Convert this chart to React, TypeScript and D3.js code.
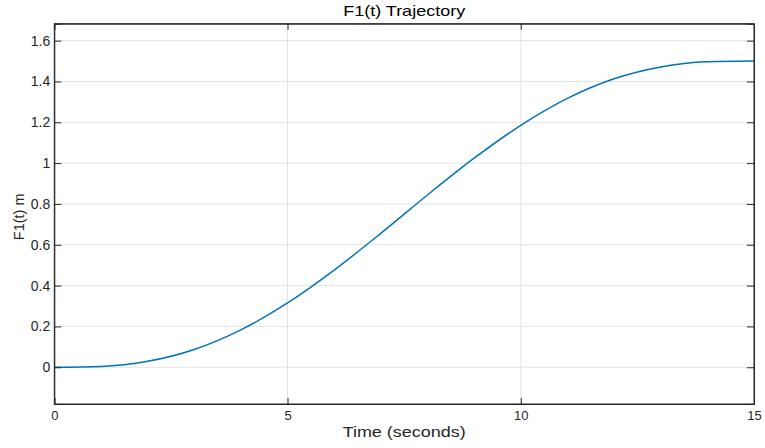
import React, { useEffect, useRef } from "react";
import * as d3 from "d3";

const WIDTH = 765;
const HEIGHT = 448;
const LINE_COLOR = "#0072BD";
const FONT = "'Liberation Sans', Arial, Helvetica, sans-serif";

// values
const timeSeconds = [0, 1, 2, 3, 4, 5, 6, 7, 8, 9, 10, 11, 12, 13, 14, 15];
const f1Values = [0, 0.004, 0.029, 0.087, 0.183, 0.315, 0.476, 0.656, 0.844, 1.024, 1.185, 1.317, 1.413, 1.471, 1.496, 1.5];

const xTicks = [0, 5, 10, 15];
const yTicks = [0, 0.2, 0.4, 0.6, 0.8, 1, 1.2, 1.4, 1.6];
const xDomain = [0, 15];
const yDomain = [-0.18, 1.683];

const margin = { top: 23.7, right: 11, bottom: 44, left: 54.3 };

const App = () => {
  const ref = useRef<SVGSVGElement | null>(null);

  useEffect(() => {
    const root = d3.select(ref.current);
    root.selectAll("*").remove();

    const w = WIDTH - margin.left - margin.right;
    const h = HEIGHT - margin.top - margin.bottom;

    const x = d3.scaleLinear().domain(xDomain).range([0, w]);
    const y = d3.scaleLinear().domain(yDomain).range([h, 0]);

    const svg = root.append("g").attr("transform", `translate(${margin.left},${margin.top})`);

    // grid
    svg.append("g")
      .selectAll("line")
      .data(xTicks.filter((d) => d > xDomain[0] && d < xDomain[1]))
      .join("line")
      .attr("x1", (d) => x(d)).attr("x2", (d) => x(d))
      .attr("y1", 0).attr("y2", h)
      .attr("stroke", "#e3e3e3").attr("stroke-width", 1);
    svg.append("g")
      .selectAll("line")
      .data(yTicks)
      .join("line")
      .attr("x1", 0).attr("x2", w)
      .attr("y1", (d) => y(d)).attr("y2", (d) => y(d))
      .attr("stroke", "#e3e3e3").attr("stroke-width", 1);

    // curve
    const line = d3.line<number>()
      .x((_, i) => x(timeSeconds[i]))
      .y((d) => y(d))
      .curve(d3.curveMonotoneX);
    svg.append("path")
      .datum(f1Values)
      .attr("d", line)
      .attr("fill", "none")
      .attr("stroke", LINE_COLOR)
      .attr("stroke-width", 1.5);

    // box
    svg.append("rect")
      .attr("x", 0).attr("y", 0).attr("width", w).attr("height", h)
      .attr("fill", "none").attr("stroke", "#262626").attr("stroke-width", 1);

    // axes with inward ticks
    const xAxis = d3.axisBottom(x).tickValues(xTicks).tickSize(-6).tickPadding(7).tickFormat(d3.format("d"));
    const gx = svg.append("g").attr("transform", `translate(0,${h})`).call(xAxis);
    const xTop = d3.axisTop(x).tickValues(xTicks).tickSize(-6).tickFormat(() => "");
    const gxt = svg.append("g").call(xTop);
    const yAxis = d3.axisLeft(y).tickValues(yTicks).tickSize(-7).tickPadding(4).tickFormat((d) => String(d));
    const gy = svg.append("g").call(yAxis);
    const yRight = d3.axisRight(y).tickValues(yTicks).tickSize(-7).tickFormat(() => "");
    const gyr = svg.append("g").attr("transform", `translate(${w},0)`).call(yRight);

    [gx, gxt, gy, gyr].forEach((g) => {
      g.select(".domain").attr("stroke", "#262626");
      g.selectAll(".tick line").attr("stroke", "#262626");
      g.selectAll("text").attr("fill", "#262626").style("font-family", FONT);
    });
    gx.selectAll("text").style("font-size", "13px");
    gy.selectAll("text").style("font-size", "14px");

    // labels
    svg.append("text")
      .attr("x", w / 2).attr("y", -8.2)
      .attr("text-anchor", "middle")
      .attr("textLength", 122).attr("lengthAdjust", "spacingAndGlyphs")
      .style("font-family", FONT).style("font-size", "14.5px").attr("fill", "#000")
      .text("F1(t) Trajectory");
    svg.append("text")
      .attr("x", w / 2).attr("y", h + 33)
      .attr("text-anchor", "middle")
      .attr("textLength", 123).attr("lengthAdjust", "spacingAndGlyphs")
      .style("font-family", FONT).style("font-size", "15px").attr("fill", "#262626")
      .text("Time (seconds)");
    svg.append("text")
      .attr("transform", `translate(${-30.5},${h / 2 + 3}) rotate(-90)`)
      .attr("text-anchor", "middle")
      .style("font-family", FONT).style("font-size", "14.5px").attr("fill", "#262626")
      .text("F1(t) m");
  }, []);

  return (
    <svg
      ref={ref}
      width={WIDTH}
      height={HEIGHT}
      style={{ position: "absolute", left: 0, top: 0, background: "#fff", display: "block" }}
    />
  );
};

export default App;
